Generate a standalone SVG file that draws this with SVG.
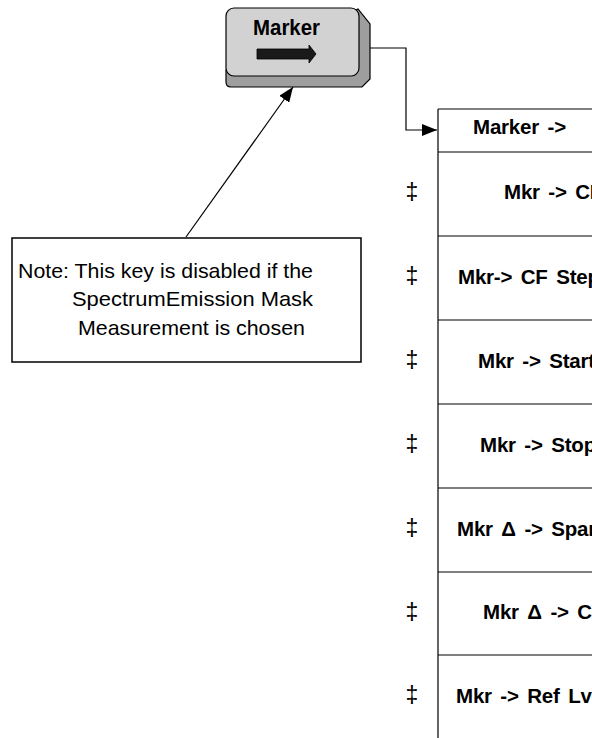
<svg xmlns="http://www.w3.org/2000/svg" width="592" height="738" viewBox="0 0 592 738">
<style>
  .ln{fill:none;stroke:#000;stroke-width:1.2}
  .mt{font-family:"Liberation Sans",Arial,sans-serif;font-weight:bold;font-size:20.5px;letter-spacing:-0.2px;word-spacing:3px;fill:#000}
  .dg{font-family:"Liberation Sans",Arial,sans-serif;font-size:23px;fill:#000;text-anchor:middle}
  .nt{font-family:"Liberation Sans",Arial,sans-serif;font-size:21px;fill:#000}
</style>
<defs>
  <marker id="ah" markerWidth="16" markerHeight="12" refX="15" refY="6" orient="auto" markerUnits="userSpaceOnUse">
    <path d="M0,0 L15,6 L0,12 Z" fill="#000"/>
  </marker>
</defs>
<rect width="592" height="738" fill="#fff"/>
<g id="marker-key">
  <path d="M226,70 L226,82 Q226,87 231,87 L362,87 L370,79 L370,24 L358,9 Z" fill="#9e9e9e" stroke="#000" stroke-width="1.2"/>
  <rect x="226" y="8" width="133" height="68" rx="8" fill="#d2d2d2" stroke="#000" stroke-width="1.2"/>
  <text x="253" y="35" font-family="'Liberation Sans',Arial,sans-serif" font-weight="bold" font-size="22" textLength="67" lengthAdjust="spacingAndGlyphs">Marker</text>
  <path d="M257,49 L309,49 L309,45 L316,54 L309,63 L309,59 L257,59 Z" fill="#1a1a1a" stroke="#000" stroke-width="0.8"/>
</g>
<g id="note">
  <rect x="12" y="238" width="349" height="124" fill="#fff" stroke="#000" stroke-width="1.5"/>
  <text class="nt" x="18" y="278" textLength="295" lengthAdjust="spacingAndGlyphs">Note: This key is disabled if the</text>
  <text class="nt" x="72" y="306" textLength="241" lengthAdjust="spacingAndGlyphs">SpectrumEmission Mask</text>
  <text class="nt" x="78" y="335" textLength="227" lengthAdjust="spacingAndGlyphs">Measurement is chosen</text>
</g>
<g id="menu">
  <path class="ln" d="M438,109 V738 M438,109 H600 M438,152 H600 M438,236 H600 M438,320 H600 M438,404 H600 M438,488 H600 M438,572 H600 M438,655 H600"/>
  <g id="menu-title"><text class="mt" x="473" y="134">Marker -&gt;</text></g>
  <g id="mkr-cf"><text class="dg" x="412" y="200">‡</text><text class="mt" x="504" y="199">Mkr -&gt; CF</text></g>
  <g id="mkr-cfstep"><text class="dg" x="412" y="284">‡</text><text class="mt" x="458" y="284">Mkr-&gt; CF Step</text></g>
  <g id="mkr-start"><text class="dg" x="412" y="368">‡</text><text class="mt" x="478" y="368">Mkr -&gt; Start</text></g>
  <g id="mkr-stop"><text class="dg" x="412" y="452">‡</text><text class="mt" x="480" y="452">Mkr -&gt; Stop</text></g>
  <g id="mkrd-span"><text class="dg" x="412" y="536">‡</text><text class="mt" x="457" y="536">Mkr Δ -&gt; Span</text></g>
  <g id="mkrd-cf"><text class="dg" x="412" y="620">‡</text><text class="mt" x="483" y="619">Mkr Δ -&gt; CF</text></g>
  <g id="mkr-reflvl"><text class="dg" x="412" y="703">‡</text><text class="mt" x="456" y="703">Mkr -&gt; Ref Lvl</text></g>
</g>
<g id="connectors">
  <path class="ln" d="M370,48 H406 V130 H437" marker-end="url(#ah)"/>
  <path class="ln" d="M186,237 L293,87" marker-end="url(#ah)"/>
</g>
</svg>
